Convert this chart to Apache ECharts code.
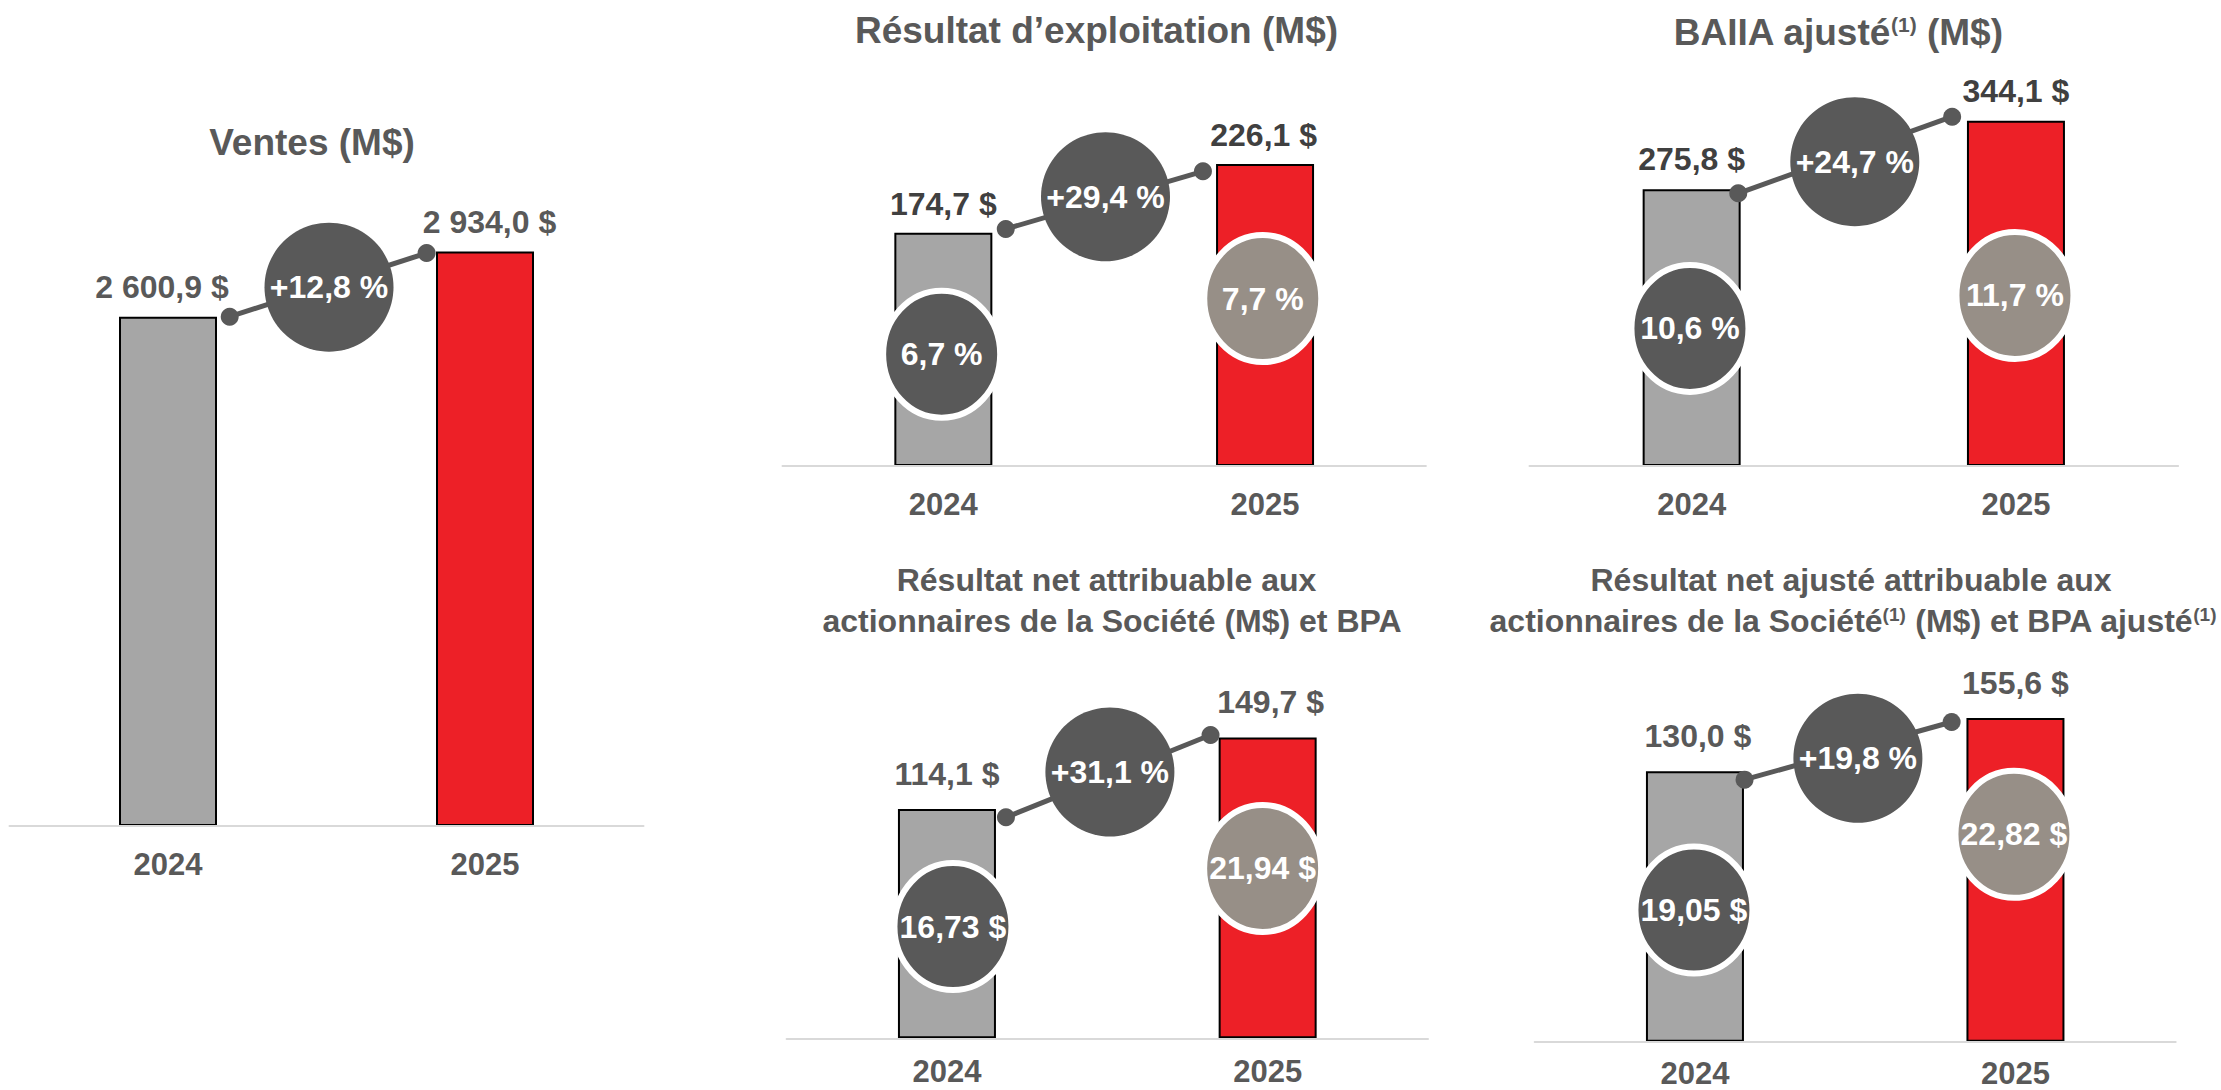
<!DOCTYPE html>
<html>
<head>
<meta charset="utf-8">
<script src="https://cdn.jsdelivr.net/npm/echarts@6/dist/echarts.min.js"></script>
<style>
  html, body { margin: 0; padding: 0; background: #fff; }
  #chart { width: 2221px; height: 1090px; }
</style>
</head>
<body>
<div id="chart"></div>
<script>
// ---------- données ----------
const years = ["2024", "2025"];

// valeurs des barres (M$)
const ventes = [2600.9, 2934.0];
const resultatExploitation = [174.7, 226.1];
const baiiaAjuste = [275.8, 344.1];
const resultatNet = [114.1, 149.7];
const resultatNetAjuste = [130.0, 155.6];

// croissance 2025 vs 2024 (%)
const croissance = [12.8, 29.4, 24.7, 31.1, 19.8];

// bulles dans les barres
const margeExploitation = [6.7, 7.7]; // %
const margeBaiia = [10.6, 11.7]; // %
const bpa = [16.73, 21.94]; // $
const bpaAjuste = [19.05, 22.82]; // $

// ---------- format ----------
const FONT = '"Liberation Sans", Arial, Helvetica, sans-serif';
const GREY_TXT = "#595959";
const DARK = "#595959";
const TAUPE = "#978f87";
const barColors = ["#a6a6a6", "#ed2027"];
const BAR_W = 98;

const fmtNum = (v, dec) => {
  const [ent, frac] = v.toFixed(dec).split(".");
  return ent.replace(/\B(?=(\d{3})+(?!\d))/g, " ") + (frac ? "," + frac : "");
};
const fmtMoney1 = (v) => fmtNum(v, 1) + " $";
const fmtMoney2 = (v) => fmtNum(v, 2) + " $";
const fmtPct = (v) => fmtNum(v, 1) + " %";
const fmtGrowth = (v) => "+" + fmtPct(v);

// ---------- mise en page des 5 panneaux ----------
const panels = [
  {
    values: ventes, growth: croissance[0], inner: null,
    grid: { left: 9.5, top: 42.8, width: 634, height: 783.2 }, max: 4000,
    labelColor: GREY_TXT, labelDist: 14, labelDx: [-6, 4.5], yearMargin: 23,
    dotA: [12.7, 0], dotB: [-9.4, 1.5], bubble: [2.5, 3],
  },
  {
    values: resultatExploitation, growth: croissance[1], inner: margeExploitation, innerFmt: fmtPct,
    grid: { left: 782.5, top: 65.4, width: 643.4, height: 400.6 }, max: 300,
    labelColor: "#404040", labelDist: 13, labelDx: [0, -1.4], yearMargin: 23,
    dotA: [13.4, -3.7], dotB: [-13.1, 7.2], bubble: [1.3, -1.7],
    ring: [[-1.7, 121.5], [-2.3, 134.5]],
  },
  {
    values: baiiaAjuste, growth: croissance[2], inner: margeBaiia, innerFmt: fmtPct,
    grid: { left: 1529.5, top: 64.7, width: 648.6, height: 401.3 }, max: 400,
    labelColor: "#404040", labelDist: 14, labelDx: [0, 0], yearMargin: 23,
    dotA: [-2.4, 4], dotB: [-14.8, -4.1], bubble: [1, 6.6],
    ring: [[-1.7, 139.1], [-1, 174.7]],
  },
  {
    values: resultatNet, growth: croissance[3], inner: bpa, innerFmt: fmtMoney2,
    grid: { left: 786.6, top: 636.4, width: 641.4, height: 401.9 }, max: 200,
    labelColor: GREY_TXT, labelDist: 19, labelDx: [0, 3], yearMargin: 18,
    dotA: [10, 8.3], dotB: [-8.1, -2.5], bubble: [2.6, -1.3],
    ring: [[6, 117.5], [-5, 131]],
  },
  {
    values: resultatNetAjuste, growth: croissance[4], inner: bpaAjuste, innerFmt: fmtMoney2,
    grid: { left: 1534.7, top: 625.6, width: 641, height: 416.1 }, max: 200,
    labelColor: GREY_TXT, labelDist: 19, labelDx: [3, 0], yearMargin: 16,
    dotA: [0.6, 8.4], dotB: [-14.8, 4], bubble: [2.7, 13.6],
    ring: [[-1, 138.8], [-1.5, 116.4]],
  },
];

// ---------- titres ----------
const sup = (size) => ({ fontSize: size, fontWeight: "bold", fontFamily: FONT, fill: GREY_TXT, verticalAlign: "top" });
const titleText = (x, y, text, size, supSize) => ({
  type: "text",
  x, y,
  silent: true,
  style: {
    text,
    fontSize: size,
    fontWeight: "bold",
    fontFamily: FONT,
    fill: GREY_TXT,
    align: "center",
    verticalAlign: "middle",
    rich: { sup: sup(supSize || 20) },
  },
});

const titles = [
  titleText(312, 142, "Ventes (M$)", 37),
  titleText(1096.5, 30, "Résultat d’exploitation (M$)", 37),
  titleText(1838, 32, "BAIIA ajusté{sup|(1)} (M$)", 37, 21),
  titleText(1106.5, 580, "Résultat net attribuable aux", 32),
  titleText(1112, 621, "actionnaires de la Société (M$) et BPA", 32),
  titleText(1851, 580, "Résultat net ajusté attribuable aux", 32),
  titleText(1853, 621, "actionnaires de la Société{sup|(1)} (M$) et BPA ajusté{sup|(1)}", 32, 19),
];

// ---------- séries ----------
const makeBars = (p, idx) => ({
  type: "bar",
  xAxisIndex: idx,
  yAxisIndex: idx,
  barWidth: BAR_W,
  silent: true,
  z: 2,
  itemStyle: { borderColor: "#000", borderWidth: 2 },
  label: {
    show: true,
    position: "top",
    distance: p.labelDist,
    formatter: (d) => fmtMoney1(d.value),
    color: p.labelColor,
    fontSize: 32,
    fontWeight: "bold",
    fontFamily: FONT,
  },
  data: p.values.map((v, i) => ({
    value: v,
    itemStyle: { color: barColors[i] },
    label: { offset: [p.labelDx[i], 0] },
  })),
});

const txt = (x, y, text) => ({
  type: "text",
  x, y,
  style: {
    text,
    fill: "#fff",
    fontSize: 32,
    fontWeight: "bold",
    fontFamily: FONT,
    align: "center",
    verticalAlign: "middle",
  },
});

const makeOverlay = (p, idx) => ({
  type: "custom",
  coordinateSystem: "cartesian2d",
  xAxisIndex: idx,
  yAxisIndex: idx,
  silent: true,
  z: 5,
  clip: false,
  data: [[0, p.values[0], p.values[1]]],
  encode: { x: 0, y: 1 },
  renderItem: (params, api) => {
    const v0 = api.value(1);
    const v1 = api.value(2);
    const top0 = api.coord([0, v0]);
    const top1 = api.coord([1, v1]);
    const mid = api.coord([0, (v0 + v1) / 2]);
    const children = [];

    // bulles de marge / BPA sur les barres
    if (p.inner) {
      [top0, top1].forEach((t, i) => {
        const cx = t[0] + p.ring[i][0];
        const cy = t[1] + p.ring[i][1];
        children.push({
          type: "ellipse",
          shape: { cx, cy, rx: 58.5, ry: 63.5 },
          style: { fill: i === 0 ? DARK : TAUPE, stroke: "#fff", lineWidth: 6 },
        });
        children.push(txt(cx, cy, p.innerFmt(p.inner[i])));
      });
    }

    // connecteur
    const a = [top0[0] + BAR_W / 2 + p.dotA[0], top0[1] + p.dotA[1]];
    const b = [top1[0] - BAR_W / 2 + p.dotB[0], top1[1] + p.dotB[1]];
    children.push({
      type: "line",
      shape: { x1: a[0], y1: a[1], x2: b[0], y2: b[1] },
      style: { stroke: DARK, lineWidth: 5 },
    });
    children.push({ type: "circle", shape: { cx: a[0], cy: a[1], r: 9 }, style: { fill: DARK } });
    children.push({ type: "circle", shape: { cx: b[0], cy: b[1], r: 9 }, style: { fill: DARK } });

    // bulle de croissance
    const bx = (top0[0] + top1[0]) / 2 + p.bubble[0];
    const by = mid[1] + p.bubble[1];
    children.push({ type: "circle", shape: { cx: bx, cy: by, r: 64.5 }, style: { fill: DARK } });
    children.push(txt(bx, by, fmtGrowth(p.growth)));

    return { type: "group", children };
  },
});

const chart = echarts.init(document.getElementById("chart"), null, { renderer: "svg" });

chart.setOption({
  backgroundColor: "#fff",
  animation: false,
  graphic: titles,
  grid: panels.map((p) => ({
    ...p.grid,
    containLabel: false,
    outerBoundsMode: "none",
  })),
  xAxis: panels.map((p, i) => ({
    type: "category",
    gridIndex: i,
    data: years,
    z: 3,
    axisLine: { lineStyle: { color: "#d9d9d9", width: 2 } },
    axisTick: { show: false },
    axisLabel: {
      margin: p.yearMargin,
      color: GREY_TXT,
      fontSize: 31,
      fontWeight: "bold",
      fontFamily: FONT,
    },
    splitLine: { show: false },
  })),
  yAxis: panels.map((p, i) => ({
    type: "value",
    gridIndex: i,
    min: 0,
    max: p.max,
    show: false,
  })),
  series: panels.flatMap((p, i) => [makeBars(p, i), makeOverlay(p, i)]),
});

window.addEventListener("resize", () => chart.resize());
</script>
</body>
</html>
